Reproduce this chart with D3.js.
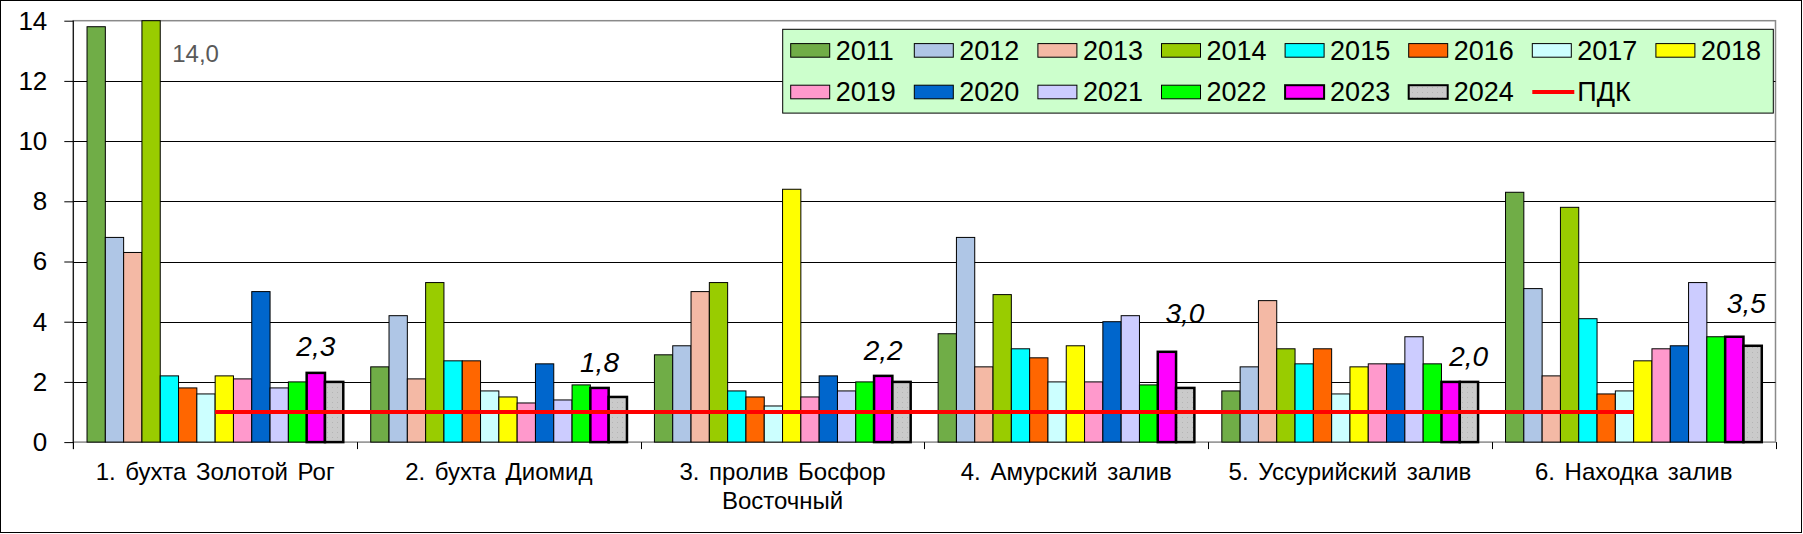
<!DOCTYPE html>
<html><head><meta charset="utf-8">
<script src="https://cdn.jsdelivr.net/npm/d3@7"></script>
<style>
html,body{margin:0;padding:0;background:#fff;}
svg{display:block;font-family:"Liberation Sans",Arial,sans-serif;}
</style></head>
<body><svg id="chart" width="1803" height="534"></svg>
<script>
// ---- data ----
const categories = [
  ["1. бухта Золотой Рог"],
  ["2. бухта Диомид"],
  ["3. пролив Босфор", "Восточный"],
  ["4. Амурский залив"],
  ["5. Уссурийский залив"],
  ["6. Находка залив"]
];
const years = ["2011","2012","2013","2014","2015","2016","2017","2018","2019","2020","2021","2022","2023","2024"];
const v2011 = [13.8, 2.5, 2.9, 3.6, 1.7, 8.3];
const v2012 = [6.8, 4.2, 3.2, 6.8, 2.5, 5.1];
const v2013 = [6.3, 2.1, 5.0, 2.5, 4.7, 2.2];
const v2014 = [14.0, 5.3, 5.3, 4.9, 3.1, 7.8];
const v2015 = [2.2, 2.7, 1.7, 3.1, 2.6, 4.1];
const v2016 = [1.8, 2.7, 1.5, 2.8, 3.1, 1.6];
const v2017 = [1.6, 1.7, 1.2, 2.0, 1.6, 1.7];
const v2018 = [2.2, 1.5, 8.4, 3.2, 2.5, 2.7];
const v2019 = [2.1, 1.3, 1.5, 2.0, 2.6, 3.1];
const v2020 = [5.0, 2.6, 2.2, 4.0, 2.6, 3.2];
const v2021 = [1.8, 1.4, 1.7, 4.2, 3.5, 5.3];
const v2022 = [2.0, 1.9, 2.0, 1.9, 2.6, 3.5];
const v2023 = [2.3, 1.8, 2.2, 3.0, 2.0, 3.5];
const v2024 = [2.0, 1.5, 2.0, 1.8, 2.0, 3.2];
const pdk = [1, 1, 1, 1, 1, 1];
const yTicks = [0, 2, 4, 6, 8, 10, 12, 14];
const seriesValues = [v2011,v2012,v2013,v2014,v2015,v2016,v2017,v2018,v2019,v2020,v2021,v2022,v2023,v2024];

// ---- styles ----
const colors = ["#70AD47","#AFC6E6","#F4B9A5","#99CC00","#00FFFF","#FF6600","#CCFFFF","#FFFF00","#FF99CC","#0066CC","#CCCCFF","#00FF00","#FF00FF","url(#dots)"];
const strokeW = [1,1,1,1,1,1,1,1,1,1,1,1,2.5,2.5];
// label layout (px offsets relative to the 2023 bar center / top)
const labelDx = [0, 0, 0, 18, 18, 12];
const labelGap = [17, 16, 16, 29, 16, 24];

const svg = d3.select("#chart");
const defs = svg.append("defs");
const pat = defs.append("pattern").attr("id","dots").attr("patternUnits","userSpaceOnUse")
  .attr("width",5).attr("height",5);
pat.append("rect").attr("width",5).attr("height",5).attr("fill","#CACACA");
pat.append("rect").attr("x",2).attr("y",2).attr("width",1).attr("height",1).attr("fill","#B4B4B4");

// outer border
svg.append("rect").attr("x",0.5).attr("y",0.5).attr("width",1801).attr("height",532)
  .attr("fill","#fff").attr("stroke","#000").attr("stroke-width",1);

const pLeft = 73.3, pRight = 1775.5, pTop = 20.7, pBottom = 442.1;
const x0 = d3.scaleBand().domain(d3.range(categories.length)).range([pLeft, pRight]).padding(0);
const x1 = d3.scaleBand().domain(years).range([0, x0.bandwidth()]).paddingInner(0).paddingOuter(0.75);
const y = d3.scaleLinear().domain([0, 14]).range([pBottom, pTop]);

// plot area border (gray)
svg.append("rect").attr("x",pLeft).attr("y",pTop).attr("width",pRight-pLeft).attr("height",pBottom-pTop)
  .attr("fill","none").attr("stroke","#8a8a8a").attr("stroke-width",1.5);

// gridlines
svg.append("g").selectAll("line").data(yTicks.filter(t => t > 0 && t < 14)).join("line")
  .attr("x1",pLeft).attr("x2",pRight).attr("y1",d => Math.round(y(d))+0.5).attr("y2",d => Math.round(y(d))+0.5)
  .attr("stroke","#000").attr("stroke-width",1);

// bars
const barG = svg.append("g");
seriesValues.forEach((vals, si) => {
  barG.append("g").selectAll("rect").data(vals).join("rect")
    .attr("x", (d,i) => x0(i) + x1(years[si]))
    .attr("y", d => y(d))
    .attr("width", x1.bandwidth())
    .attr("height", d => pBottom - y(d))
    .attr("fill", colors[si])
    .attr("stroke", "#000")
    .attr("stroke-width", strokeW[si]);
});

// PDK line
const line = d3.line().x((d,i) => x0(i) + x0.bandwidth()/2).y(d => y(d));
svg.append("path").datum(pdk).attr("d", line).attr("fill","none").attr("stroke","#FF0000").attr("stroke-width",4);

// y axis
const yAxis = d3.axisLeft(y).tickValues(yTicks).tickSize(9).tickPadding(17).tickFormat(d3.format("d"));
const yg = svg.append("g").attr("transform",`translate(${pLeft},0)`).call(yAxis);
yg.select(".domain").attr("stroke","#000").attr("d",`M0,${pTop}V${pBottom+7}`);
yg.selectAll(".tick line").attr("stroke","#000");
yg.selectAll(".tick text").attr("font-size",26).attr("fill","#000").attr("font-family","Liberation Sans, Arial, sans-serif");

// x ticks at category boundaries
const bounds = d3.range(categories.length + 1).map(i => i < categories.length ? x0(i) : pRight);
svg.append("g").selectAll("line").data(bounds).join("line")
  .attr("x1", d => Math.round(d)+0.5).attr("x2", d => Math.round(d)+0.5)
  .attr("y1", pBottom).attr("y2", pBottom + 7).attr("stroke","#000");

// category labels
const catG = svg.append("g");
categories.forEach((lines, i) => {
  const t = catG.append("text").attr("x", x0(i) + x0.bandwidth()/2).attr("y", 480)
    .attr("text-anchor","middle").attr("font-size",24).attr("word-spacing",3).attr("fill","#000");
  lines.forEach((ln, j) => t.append("tspan").attr("x", x0(i) + x0.bandwidth()/2).attr("dy", j === 0 ? 0 : 29).text(ln));
});

// data labels for 2023
const fmt = v => d3.format(".1f")(v).replace(".", ",");
svg.append("g").selectAll("text").data(v2023).join("text")
  .attr("x", (d,i) => x0(i) + x1("2023") + x1.bandwidth()/2 + labelDx[i])
  .attr("y", (d,i) => y(d) - labelGap[i])
  .attr("text-anchor","middle").attr("font-size",28).attr("font-style","italic").attr("fill","#000")
  .text(d => fmt(d));

// clipped 2014 label
svg.append("text").attr("x", x0(0) + x1("2014") + x1.bandwidth() + 12).attr("y", 61.5)
  .attr("font-size",24).attr("fill","#595959").text(fmt(v2014[0]));

// legend
const lg = svg.append("g");
lg.append("rect").attr("x",782.7).attr("y",29.3).attr("width",990.6).attr("height",83.8)
  .attr("fill","#CCFFCC").attr("stroke","#000").attr("stroke-width",1);
const legendItems = years.map((yr, i) => ({label: yr, color: colors[i], sw: strokeW[i] > 1 ? 2 : 1, type: "bar"}));
legendItems.push({label: "ПДК", type: "line"});
legendItems.forEach((it, i) => {
  const col = i < 8 ? i : i - 8;
  const row = i < 8 ? 0 : 1;
  const lx = 790.7 + col * 123.6;
  const cy = row === 0 ? 50.4 : 92;
  if (it.type === "bar") {
    lg.append("rect").attr("x", lx).attr("y", cy - 6.8).attr("width", 39).attr("height", 13.6)
      .attr("fill", it.color).attr("stroke","#000").attr("stroke-width", it.sw);
  } else {
    lg.append("line").attr("x1", lx).attr("x2", lx + 42).attr("y1", cy).attr("y2", cy)
      .attr("stroke","#FF0000").attr("stroke-width",4);
  }
  lg.append("text").attr("x", lx + 45).attr("y", cy).attr("dy","0.35em")
    .attr("font-size",27).attr("fill","#000").text(it.label);
});
</script></body></html>
